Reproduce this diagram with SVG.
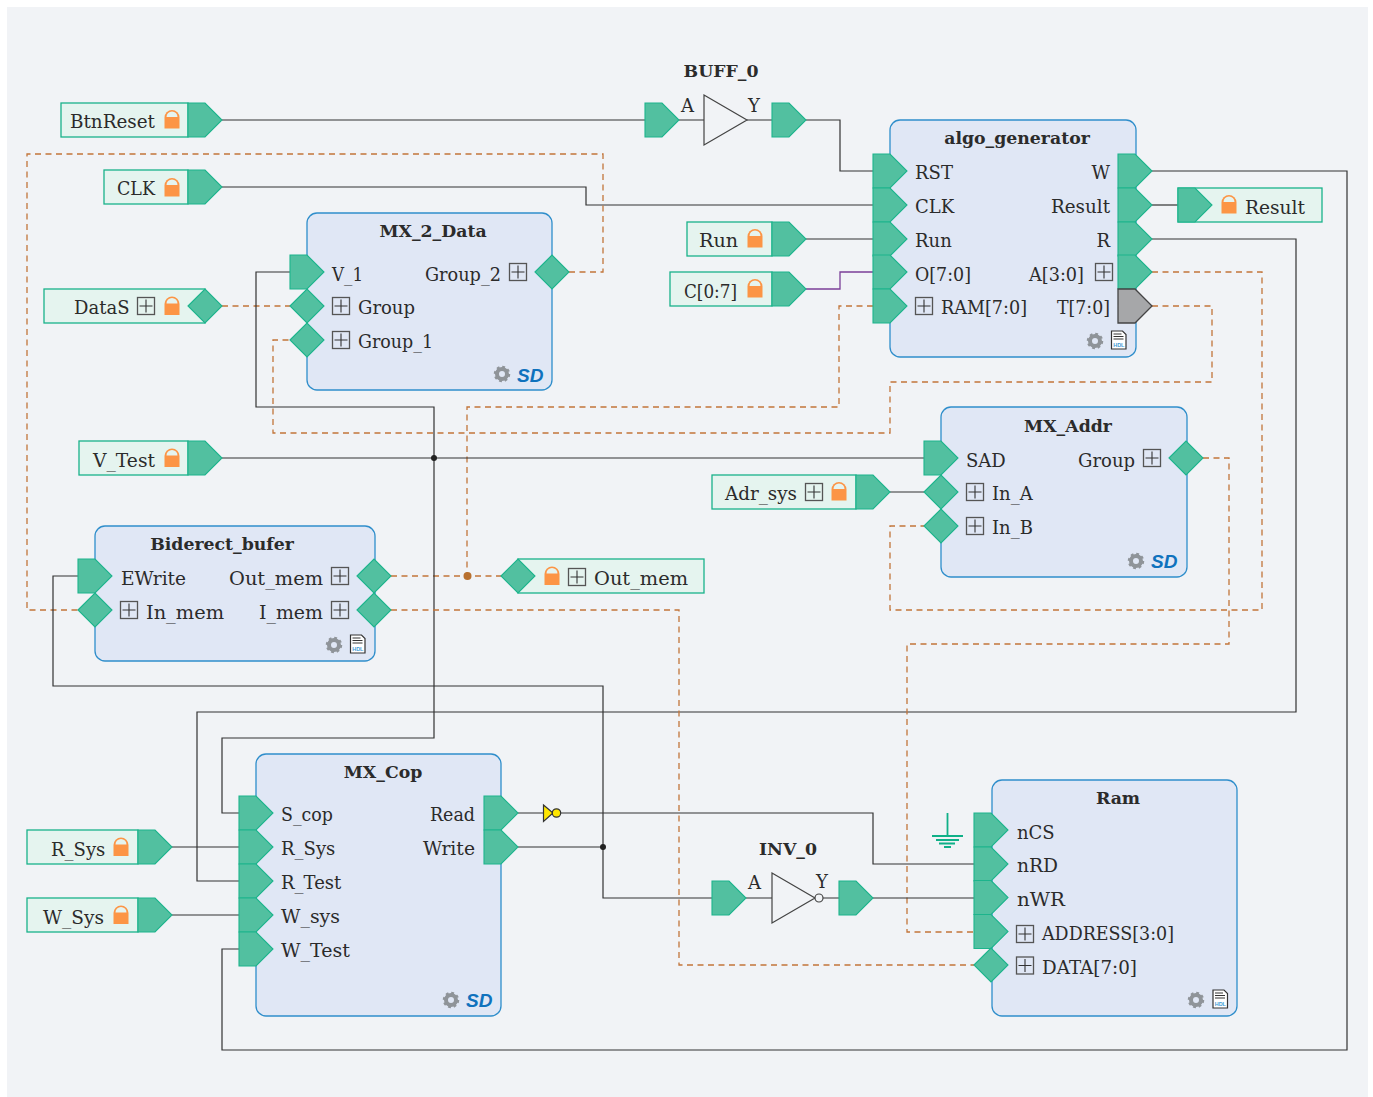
<svg xmlns="http://www.w3.org/2000/svg" width="1373" height="1097" viewBox="0 0 1373 1097">
<style>
text{font-family:"DejaVu Serif","Liberation Serif",serif;font-size:18px;fill:#2b2b2b}
.t{font-weight:700;font-size:17.300px;text-anchor:middle}
.e{text-anchor:end}
.blk{fill:#e0e7f5;stroke:#2f8ecb;stroke-width:1.300}
.lbl{fill:#e5f4ef;stroke:#1ab28a;stroke-width:1.300}
.pf{fill:#52c0a0;stroke:#1cb48c;stroke-width:1.100}
.gr{fill:#a6a7a9;stroke:#444;stroke-width:1.300}
.w{fill:none;stroke:#333;stroke-width:1.200}
.d{fill:none;stroke:#c2753a;stroke-width:1.300;stroke-dasharray:6 4.500}
.sd{font-family:"Liberation Sans",sans-serif;font-weight:700;font-style:italic;font-size:19px;fill:#0f72bd}
.hd{font-family:"Liberation Sans",sans-serif;font-weight:700;font-size:5.500px;fill:#3f9ad6;text-anchor:middle}
</style>
<defs>
<path id="pe" d="M0-17H17L34 0 17 17H0Z"/>
<path id="di" d="M0 0 17-17 34 0 17 17Z"/>
<g id="lock"><path d="M-7.500 9V-2A7.500 7.500 0 0 1 7.500-2V9Z" fill="#fc9545"/><path d="M-5.500-2.500A5.500 5.500 0 0 1 5.500-2.500Z" fill="#e5f4ef"/></g>
<g id="plus"><rect x="-8.500" y="-8.500" width="17" height="17" fill="none" stroke="#555" stroke-width="1.300"/><path d="M-6.500 0H6.500M0-6.500V6.500" stroke="#333" stroke-width="1.100"/></g>
<g id="gear"><circle r="5" fill="none" stroke="#8f9499" stroke-width="4"/><circle r="7" fill="none" stroke="#8f9499" stroke-width="2.500" stroke-dasharray="2.750 2.750"/></g>
<g id="hdl"><path d="M-7-9H4L7.500-5.500V9H-7Z" fill="#fff" stroke="#333" stroke-width="1.200"/><path d="M-5-6H3M-5-3.500H5M-5-1H5" stroke="#333" stroke-width="1"/><text class="hd" x="0.300" y="6.500">HDL</text></g>
</defs>
<rect width="1373" height="1097" fill="#fff"/>
<rect x="7" y="7" width="1361" height="1090" fill="#f1f3f6"/>

<g id="connectors">
<path class="w" d="M222 120H645M679 120H704M747 120H772M806 120H840V171H873"/>
<path class="w" d="M222 187H586V205H873"/>
<path class="w" d="M806 239H873"/>
<path d="M806 289H840V272H873" fill="none" stroke="#7b3f98" stroke-width="1.300"/>
<path class="w" d="M1152 171H1347V1050H222V949H239"/>
<path class="w" d="M1152 205H1178"/>
<path class="w" d="M1152 239H1296V712H197V881H239"/>
<path class="d" d="M1152 272H1262V610H890V526H924"/>
<path class="d" d="M1152 306H1212V382H890V433H273V340H290"/>
<path class="d" d="M873 306H839V407H467V576"/>
<path class="d" d="M391 576H501"/>
<path class="d" d="M569 272H603V154H27V610H78"/>
<path class="d" d="M222 306H290"/>
<path class="w" d="M290 272H256V407H434V738H222V813H239"/>
<path class="w" d="M222 458H924"/>
<path class="w" d="M890 492H924"/>
<path class="d" d="M1203 458H1229V644H907V932H974"/>
<path class="d" d="M391 610H679V965H974"/>
<path class="w" d="M78 576H53V686H603V898H712"/>
<path class="w" d="M172 847H239M172 915H239"/>
<path class="w" d="M518 813H543M561 813H873V864H974"/>
<path class="w" d="M518 847H603"/>
<path class="w" d="M746 898H772M823 898H839M873 898H974"/>
<circle cx="434" cy="458" r="3" fill="#222"/>
<circle cx="603" cy="847" r="3" fill="#222"/>
<circle cx="467.500" cy="576" r="4" fill="#b8702f"/>
</g>

<g id="BtnReset"><rect class="lbl" x="61" y="103" width="127" height="34"/><text x="70" y="128" textLength="85" lengthAdjust="spacingAndGlyphs">BtnReset</text><use href="#lock" x="172" y="119.500"/><use href="#pe" class="pf" x="188" y="120"/></g>
<g id="CLK"><rect class="lbl" x="104" y="170" width="84" height="34"/><text x="117" y="195" textLength="38" lengthAdjust="spacingAndGlyphs">CLK</text><use href="#lock" x="172" y="187.500"/><use href="#pe" class="pf" x="188" y="187"/></g>
<g id="DataS"><rect class="lbl" x="44" y="289" width="161" height="34"/><text x="74" y="314">DataS</text><use href="#plus" x="146" y="306"/><use href="#lock" x="172" y="306"/><use href="#di" class="pf" x="188" y="306"/></g>
<g id="V_Test"><rect class="lbl" x="79" y="441" width="109" height="34"/><text x="93" y="467" textLength="62" lengthAdjust="spacingAndGlyphs">V_Test</text><use href="#lock" x="172" y="458"/><use href="#pe" class="pf" x="188" y="458"/></g>
<g id="Run"><rect class="lbl" x="687" y="222" width="85" height="34"/><text x="699" y="247" textLength="39" lengthAdjust="spacingAndGlyphs">Run</text><use href="#lock" x="755" y="238.500"/><use href="#pe" class="pf" x="772" y="239"/></g>
<g id="C07"><rect class="lbl" x="670" y="272" width="102" height="34"/><text x="684" y="298" textLength="53" lengthAdjust="spacingAndGlyphs">C[0:7]</text><use href="#lock" x="755" y="288.500"/><use href="#pe" class="pf" x="772" y="289"/></g>
<g id="Result"><rect class="lbl" x="1178" y="188" width="144" height="34"/><use href="#pe" class="pf" x="1178" y="205"/><use href="#lock" x="1229" y="204.500"/><text x="1245" y="214" textLength="60" lengthAdjust="spacingAndGlyphs">Result</text></g>
<g id="Adr_sys"><rect class="lbl" x="712" y="475" width="144" height="34"/><text x="725" y="500" textLength="72" lengthAdjust="spacingAndGlyphs">Adr_sys</text><use href="#plus" x="814" y="492"/><use href="#lock" x="839" y="491.500"/><use href="#pe" class="pf" x="856" y="492"/></g>
<g id="Out_mem"><rect class="lbl" x="518" y="559" width="186" height="34"/><use href="#di" class="pf" x="501" y="576"/><use href="#lock" x="552" y="576"/><use href="#plus" x="577" y="577"/><text x="594" y="585" textLength="94" lengthAdjust="spacingAndGlyphs">Out_mem</text></g>
<g id="R_Sys"><rect class="lbl" x="27" y="830" width="111" height="34"/><text x="51" y="856">R_Sys</text><use href="#lock" x="121" y="847"/><use href="#pe" class="pf" x="138" y="847"/></g>
<g id="W_Sys"><rect class="lbl" x="27" y="898" width="111" height="34"/><text x="43" y="924" textLength="61" lengthAdjust="spacingAndGlyphs">W_Sys</text><use href="#lock" x="121" y="915"/><use href="#pe" class="pf" x="138" y="915"/></g>

<g id="BUFF_0"><text class="t" x="721" y="77">BUFF_0</text><use href="#pe" class="pf" x="645" y="120"/><path d="M704 95 747 120 704 145Z" fill="#f1f3f6" stroke="#444" stroke-width="1.200"/><text x="681" y="112">A</text><text x="748" y="112">Y</text><use href="#pe" class="pf" x="772" y="120"/></g>

<g id="algo_generator"><rect class="blk" x="890" y="120" width="246" height="237" rx="10"/><text class="t" x="1017" y="144">algo_generator</text>
<use href="#pe" class="pf" x="873" y="171"/><use href="#pe" class="pf" x="873" y="205"/><use href="#pe" class="pf" x="873" y="239"/><use href="#pe" class="pf" x="873" y="272"/><use href="#pe" class="pf" x="873" y="306"/>
<use href="#pe" class="pf" x="1118" y="171"/><use href="#pe" class="pf" x="1118" y="205"/><use href="#pe" class="pf" x="1118" y="239"/><use href="#pe" class="pf" x="1118" y="272"/><use href="#pe" class="gr" x="1118" y="306"/>
<text x="915" y="179">RST</text><text x="915" y="213">CLK</text><text x="915" y="247">Run</text><text x="915" y="281" textLength="56" lengthAdjust="spacingAndGlyphs">O[7:0]</text><use href="#plus" x="924" y="306"/><text x="941" y="314" textLength="86" lengthAdjust="spacingAndGlyphs">RAM[7:0]</text>
<text class="e" x="1110" y="179">W</text><text class="e" x="1110" y="213" textLength="59" lengthAdjust="spacingAndGlyphs">Result</text><text class="e" x="1110" y="247">R</text><text class="e" x="1084" y="281" textLength="55" lengthAdjust="spacingAndGlyphs">A[3:0]</text><use href="#plus" x="1104" y="272"/><text class="e" x="1110" y="314" textLength="53" lengthAdjust="spacingAndGlyphs">T[7:0]</text>
<use href="#gear" x="1095" y="341"/><use href="#hdl" x="1118.500" y="340"/></g>

<g id="MX_2_Data"><rect class="blk" x="307" y="213" width="245" height="177" rx="10"/><text class="t" x="433" y="237">MX_2_Data</text>
<use href="#pe" class="pf" x="290" y="272"/><use href="#di" class="pf" x="290" y="306"/><use href="#di" class="pf" x="290" y="340"/><use href="#di" class="pf" x="535" y="272"/>
<text x="332" y="281" textLength="31" lengthAdjust="spacingAndGlyphs">V_1</text><use href="#plus" x="341" y="306"/><text x="358" y="314">Group</text><use href="#plus" x="341" y="340"/><text x="358" y="348" textLength="75" lengthAdjust="spacingAndGlyphs">Group_1</text>
<text class="e" x="501" y="281" textLength="76" lengthAdjust="spacingAndGlyphs">Group_2</text><use href="#plus" x="518" y="272"/>
<use href="#gear" x="502" y="374"/><text class="sd" x="517" y="382">SD</text></g>

<g id="MX_Addr"><rect class="blk" x="941" y="407" width="246" height="170" rx="10"/><text class="t" x="1068" y="432">MX_Addr</text>
<use href="#pe" class="pf" x="924" y="458"/><use href="#di" class="pf" x="924" y="492"/><use href="#di" class="pf" x="924" y="526"/><use href="#di" class="pf" x="1169" y="458"/>
<text x="966" y="467">SAD</text><use href="#plus" x="975" y="492"/><text x="992" y="500">In_A</text><use href="#plus" x="975" y="526"/><text x="992" y="534">In_B</text>
<text class="e" x="1135" y="467">Group</text><use href="#plus" x="1152" y="458"/>
<use href="#gear" x="1136" y="561"/><text class="sd" x="1151" y="568">SD</text></g>

<g id="Biderect_bufer"><rect class="blk" x="95" y="526" width="280" height="135" rx="10"/><text class="t" x="222" y="550">Biderect_bufer</text>
<use href="#pe" class="pf" x="78" y="576"/><use href="#di" class="pf" x="78" y="610"/><use href="#di" class="pf" x="357" y="576"/><use href="#di" class="pf" x="357" y="610"/>
<text x="121" y="585" textLength="65" lengthAdjust="spacingAndGlyphs">EWrite</text><use href="#plus" x="129" y="610"/><text x="146" y="619" textLength="78" lengthAdjust="spacingAndGlyphs">In_mem</text>
<text class="e" x="323" y="585" textLength="94" lengthAdjust="spacingAndGlyphs">Out_mem</text><use href="#plus" x="340" y="576"/><text class="e" x="323" y="619" textLength="64" lengthAdjust="spacingAndGlyphs">I_mem</text><use href="#plus" x="340" y="610"/>
<use href="#gear" x="334" y="645"/><use href="#hdl" x="357.500" y="644"/></g>

<g id="MX_Cop"><rect class="blk" x="256" y="754" width="245" height="262" rx="10"/><text class="t" x="383" y="778">MX_Cop</text>
<use href="#pe" class="pf" x="239" y="813"/><use href="#pe" class="pf" x="239" y="847"/><use href="#pe" class="pf" x="239" y="881"/><use href="#pe" class="pf" x="239" y="915"/><use href="#pe" class="pf" x="239" y="949"/>
<use href="#pe" class="pf" x="484" y="813"/><use href="#pe" class="pf" x="484" y="847"/>
<text x="281" y="821" textLength="52" lengthAdjust="spacingAndGlyphs">S_cop</text><text x="281" y="855">R_Sys</text><text x="281" y="889">R_Test</text><text x="281" y="923" textLength="59" lengthAdjust="spacingAndGlyphs">W_sys</text><text x="281" y="957" textLength="69" lengthAdjust="spacingAndGlyphs">W_Test</text>
<text class="e" x="475" y="821" textLength="45" lengthAdjust="spacingAndGlyphs">Read</text><text class="e" x="475" y="855" textLength="52" lengthAdjust="spacingAndGlyphs">Write</text>
<use href="#gear" x="451" y="1000"/><text class="sd" x="466" y="1007">SD</text></g>

<g id="NOT_buffer"><path d="M543.500 805 553 813 543.500 821.500Z" fill="#ffe600" stroke="#333" stroke-width="1.200"/><circle cx="556.500" cy="813" r="4.200" fill="#ffe600" stroke="#333" stroke-width="1.200"/></g>

<g id="INV_0"><text class="t" x="788" y="855">INV_0</text><use href="#pe" class="pf" x="712" y="898"/><path d="M772 873 815 898 772 923Z" fill="#f1f3f6" stroke="#444" stroke-width="1.200"/><circle cx="819" cy="898" r="4" fill="#f1f3f6" stroke="#444" stroke-width="1.200"/><text x="748" y="889">A</text><text x="816" y="888">Y</text><use href="#pe" class="pf" x="839" y="898"/></g>

<g id="Ram"><rect class="blk" x="992" y="780" width="245" height="236" rx="10"/><text class="t" x="1118" y="804">Ram</text>
<use href="#pe" class="pf" x="974" y="830"/><use href="#pe" class="pf" x="974" y="864"/><use href="#pe" class="pf" x="974" y="897.500"/><use href="#pe" class="pf" x="974" y="931.500"/><use href="#di" class="pf" x="974" y="965"/>
<text x="1017" y="839">nCS</text><text x="1017" y="872" textLength="41" lengthAdjust="spacingAndGlyphs">nRD</text><text x="1017" y="906" textLength="48" lengthAdjust="spacingAndGlyphs">nWR</text><use href="#plus" x="1025" y="934"/><text x="1042" y="940" textLength="132" lengthAdjust="spacingAndGlyphs">ADDRESS[3:0]</text><use href="#plus" x="1025" y="965.500"/><text x="1042" y="974" textLength="95" lengthAdjust="spacingAndGlyphs">DATA[7:0]</text>
<use href="#gear" x="1196" y="1000"/><use href="#hdl" x="1220" y="999"/></g>

<g id="ground"><path d="M947.500 813V835M932 836H963M936 840H959M939 843.500H955M944 847H951" stroke="#10b088" stroke-width="1.800" fill="none"/></g>
</svg>
